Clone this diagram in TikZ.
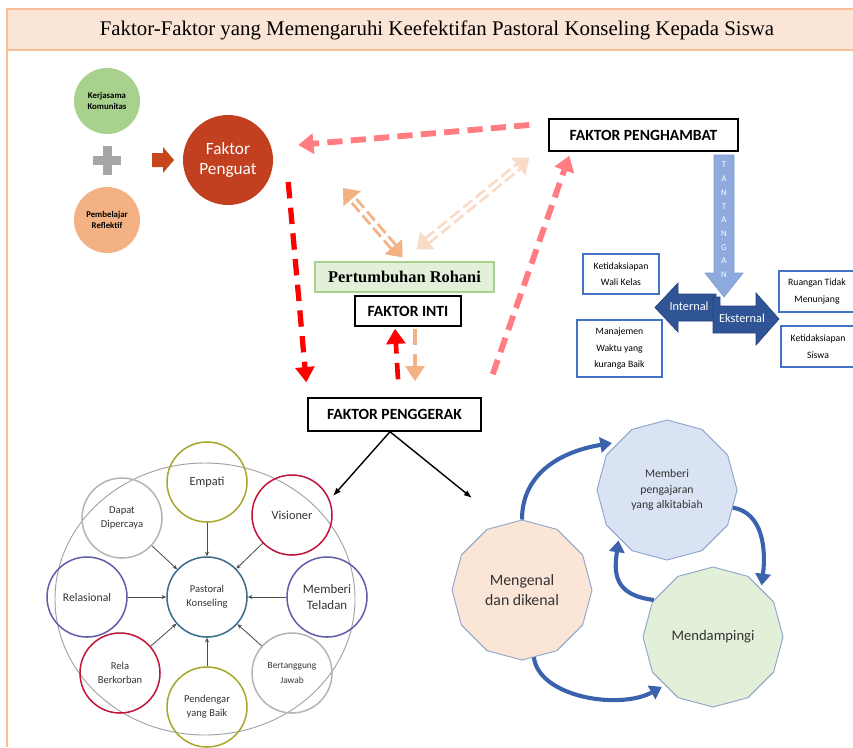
\documentclass[tikz,border=0pt]{standalone}
\usepackage{fontspec}
\setmainfont{Carlito}
\newfontfamily\timesfont{Liberation Serif}
\usetikzlibrary{arrows.meta,shapes.geometric}

\definecolor{titlefill}{HTML}{FBE5D6}
\definecolor{frameline}{HTML}{F6BD97}
\definecolor{greenball}{HTML}{A9D18E}
\definecolor{orangeball}{HTML}{F4B183}
\definecolor{penguatred}{HTML}{C2401F}
\definecolor{pinkdash}{HTML}{FF7C80}
\definecolor{reddash}{HTML}{FF0000}
\definecolor{orangedash}{HTML}{F4B183}
\definecolor{peachdash}{HTML}{F9DCC8}
\definecolor{boxblue}{HTML}{4472C4}
\definecolor{lightblue}{HTML}{8FAADC}
\definecolor{darkblue}{HTML}{2F5597}
\definecolor{cycleblue}{HTML}{3A62AD}
\definecolor{olive}{HTML}{A9A62E}
\definecolor{crimson}{HTML}{C0163C}
\definecolor{violet}{HTML}{5F5FAA}
\definecolor{softgrey}{HTML}{B4B4B4}
\definecolor{teal}{HTML}{3A6C8C}
\definecolor{polyline}{HTML}{8EA6CC}
\definecolor{rohanigreen}{HTML}{E2F0D9}
\definecolor{rohaniline}{HTML}{A9D18E}
\definecolor{pengajaranfill}{HTML}{DAE3F3}
\definecolor{mendampingifill}{HTML}{E2F0D9}

\begin{document}
\begin{tikzpicture}[x=0.03cm, y=-0.03cm]
    \tikzstyle{ball}=[
        circle,
        minimum size = 1.98cm,
        inner sep = 0pt,
        align = center,
        font = \bfseries\fontsize{7.5}{9.5}\selectfont
    ]
    \tikzstyle{faktor box}=[
        draw = black,
        line width = 1.2pt,
        fill = white,
        inner sep = 0pt,
        font = \bfseries\fontsize{13.3}{15}\selectfont
    ]
    \tikzstyle{blue box}=[
        draw = boxblue,
        line width = 1pt,
        fill = white,
        inner sep = 0pt,
        align = center,
        font = \fontsize{8.3}{14}\selectfont
    ]
    \tikzstyle{trait}=[
        circle,
        line width = 1.3pt,
        minimum size = 2.4cm,
        inner sep = 0pt,
        align = center,
        text = black!80,
        font = \fontsize{9}{12}\selectfont
    ]
    \tikzstyle{cycle}=[
        regular polygon,
        regular polygon sides = 12,
        shape border rotate = 15,
        minimum size = 4.2cm,
        inner sep = 0pt,
        draw = polyline,
        line width = 0.8pt,
        align = center,
        text = black!80
    ]
    \tikzstyle{pink arrow}=[
        color = pinkdash,
        line width = 5pt,
        dash pattern = on 13pt off 7pt,
        -{Triangle[length=13pt, width=17pt]}
    ]
    \tikzstyle{red arrow}=[
        color = reddash,
        line width = 4.5pt,
        dash pattern = on 14pt off 8pt,
        -{Triangle[length=13pt, width=16pt]}
    ]
    \tikzstyle{twin arrow}=[
        line width = 2.4pt,
        double = white,
        double distance = 2.6pt,
        dash pattern = on 10pt off 4pt,
        {Triangle[length=12pt, width=19pt]}-{Triangle[length=12pt, width=19pt]}
    ]
    \tikzstyle{spoke}=[
        color = black!70,
        line width = 0.7pt,
        -{Stealth[length=4pt, width=3.5pt]}
    ]
    \tikzstyle{round trip}=[
        draw = cycleblue,
        line width = 3.5pt,
        -{Triangle[length=10pt, width=13pt]}
    ]

    \useasboundingbox (0,0) rectangle (853,747);

    % frame and title
    \fill[titlefill] (7,9) rectangle (853,50);
    \draw[frameline, line width=2.5pt] (7,747) -- (7,9) -- (853,9);
    \draw[frameline, line width=2.5pt] (7,50) -- (853,50);
    \node (judul) at (437,30) {\timesfont\fontsize{17.8}{20}\selectfont Faktor-Faktor yang Memengaruhi Keefektifan Pastoral Konseling Kepada Siswa};

    % faktor penguat
    \node[ball, fill=greenball]  (kerjasama)  at (107,101) {Kerjasama\\Komunitas};
    \node[ball, fill=orangeball] (pembelajar) at (107,220) {Pembelajar\\Reflektif};
    \fill[black!35] (93,156) rectangle (121,165);
    \fill[black!35] (102.5,146) rectangle (111.5,175);
    \fill[penguatred!90!orange] (152,153) -- (163,153) -- (163,147) -- (174,160) -- (163,173) -- (163,167) -- (152,167) -- cycle;
    \node[circle, fill=penguatred, minimum size=2.7cm, align=center, text=white,
          font=\fontsize{14.7}{17.5}\selectfont] (penguat) at (228,160) {Faktor\\Penguat};

    % kotak faktor
    \node[faktor box, minimum width=5.67cm, minimum height=0.96cm] (penghambat) at (643.5,135) {FAKTOR PENGHAMBAT};
    \node[draw=rohaniline, fill=rohanigreen, line width=1pt, minimum width=5.37cm, minimum height=0.9cm,
          font=\timesfont\bfseries\fontsize{14}{16}\selectfont] (rohani) at (404.5,277) {Pertumbuhan Rohani};
    \node[faktor box, minimum width=3.18cm, minimum height=0.9cm] (inti) at (408,311) {FAKTOR INTI};
    \node[faktor box, minimum width=5.19cm, minimum height=0.99cm] (penggerak) at (394.5,414.5) {FAKTOR PENGGERAK};

    % tantangan
    \node[blue box, minimum width=2.28cm, minimum height=1.2cm]  (wali)    at (621,274)   {Ketidaksiapan\\Wali Kelas};
    \node[blue box, minimum width=2.55cm, minimum height=1.71cm] (waktu)   at (619.5,348.5) {Manajemen\\Waktu yang\\kuranga Baik};
    \node[blue box, minimum width=2.28cm, minimum height=1.23cm] (ruangan) at (817,291.5) {Ruangan Tidak\\Menunjang};
    \node[blue box, minimum width=2.22cm, minimum height=1.23cm] (siswa)   at (818,346.5) {Ketidaksiapan\\Siswa};
    \filldraw[fill=darkblue, draw=darkblue!80!black, line width=0.6pt]
        (716,294) -- (678,294) -- (678,283) -- (655,307.5) -- (678,332) -- (678,321) -- (716,321) -- cycle;
    \filldraw[fill=darkblue, draw=darkblue!80!black, line width=0.6pt]
        (713,297) -- (720,297) -- (720,306) -- (756,306) -- (756,293) -- (779,319) -- (756,345) -- (756,333) -- (713,333) -- cycle;
    \filldraw[fill=lightblue, draw=boxblue!70, line width=0.6pt]
        (714,155) -- (734,155) -- (734,273) -- (743,273) -- (724,297) -- (705,273) -- (714,273) -- cycle;
    \node[text=white, align=center, font=\fontsize{7.5}{9}\selectfont] (tantangan) at (724,220)
        {T\\[2.7pt]A\\[2.7pt]N\\[2.7pt]T\\[2.7pt]A\\[2.7pt]N\\[2.7pt]G\\[2.7pt]A\\[2.7pt]N};
    \node[text=white, font=\fontsize{10.5}{12}\selectfont] (internal)  at (689,306) {Internal};
    \node[text=white, font=\fontsize{10.5}{12}\selectfont] (eksternal) at (742,318) {Eksternal};

    % panah putus-putus
    \path[pink arrow] ([shift={(-19,-10)}]penghambat.west) edge ([shift={(25,-15)}]penguat.east);
    \path[red arrow] ([shift={(15,22)}]penguat.east) edge ([shift={(-1,-15)}]penggerak.north west);
    \path[pink arrow] ([shift={(11,-23)}]penggerak.north east) edge ([shift={(21,4)}]penghambat.south west);
    \path ([shift={(-2,-4)}]rohani.north) edge[twin arrow, color=orangedash] ([shift={(83,-4)}]penguat.south east);
    \path ([shift={(12,-12)}]rohani.north) edge[twin arrow, color=peachdash] ([shift={(-19,6)}]penghambat.south west);
    \path[red arrow, line width=4pt] ([shift={(3.5,-18)}]penggerak.north) edge ([shift={(-13,2)}]inti.south);
    \path[red arrow, color=orangedash, line width=4pt] ([shift={(7,2)}]inti.south) edge ([shift={(20.5,-16)}]penggerak.north);

    % faktor penggerak
    \coordinate (kiri)  at (333,496);
    \coordinate (kanan) at (472,498);
    \path[-{Latex[length=7pt]}, line width=1.2pt] ([xshift=-4.5*0.03cm]penggerak.south) edge (kiri);
    \path[-{Latex[length=7pt]}, line width=1.2pt] ([xshift=-4.5*0.03cm]penggerak.south) edge (kanan);

    \draw[softgrey!90!black, line width=0.8pt] (205,599) ellipse [x radius=150, y radius=136];
    \node[trait, draw=teal]     (pastoral)   at (207,597) {Pastoral\\Konseling};
    \node[trait, draw=olive, font=\fontsize{10.5}{12}\selectfont] (empati) at (207,482) {Empati};
    \node[trait, draw=crimson, font=\fontsize{10.5}{12}\selectfont] (visioner) at (292,515) {Visioner};
    \node[trait, draw=violet, font=\fontsize{11}{14}\selectfont] (teladan) at (327,597) {Memberi\\Teladan};
    \node[trait, draw=softgrey, font=\fontsize{8}{13}\selectfont] (jawab) at (292,673) {Bertanggung\\Jawab};
    \node[trait, draw=olive]    (pendengar)  at (207,707) {Pendengar\\yang Baik};
    \node[trait, draw=crimson]  (rela)       at (120,673) {Rela\\Berkorban};
    \node[trait, draw=violet, font=\fontsize{10}{12}\selectfont] (relasional) at (87,597) {Relasional};
    \node[trait, draw=softgrey] (dipercaya)  at (122,518) {Dapat\\Dipercaya};

    \path[spoke] (empati) edge (pastoral);
    \path[spoke] (visioner) edge (pastoral);
    \path[spoke] (teladan) edge (pastoral);
    \path[spoke] (jawab) edge (pastoral);
    \path[spoke] (pendengar) edge (pastoral);
    \path[spoke] (rela) edge (pastoral);
    \path[spoke] (relasional) edge (pastoral);
    \path[spoke] (dipercaya) edge (pastoral);

    \node[cycle, fill=titlefill, font=\fontsize{13.5}{17}\selectfont] (mengenal) at (522,590) {Mengenal\\dan dikenal};
    \node[cycle, fill=pengajaranfill, font=\fontsize{10}{13}\selectfont] (pengajaran) at (667,490) {Memberi\\pengajaran\\yang alkitabiah};
    \node[cycle, fill=mendampingifill, font=\fontsize{12.5}{15}\selectfont] (mendampingi) at (713,637) {Mendampingi};

    \draw[round trip, shorten >=6pt] (mengenal.north) .. controls +(0,-45) and +(-60,10) .. (pengajaran.135);
    \draw[round trip, shorten >=3pt] (pengajaran.-15) .. controls +(30,5) and +(5,-40) .. (mendampingi.45);
    \draw[round trip, shorten >=2pt] (mendampingi.148) .. controls +(-40,-5) and +(-5,35) .. (pengajaran.-135);
    \draw[round trip, shorten >=3pt] (mengenal.-80) .. controls +(5,40) and +(-45,25) .. (mendampingi.225);

\end{tikzpicture}
\end{document}
